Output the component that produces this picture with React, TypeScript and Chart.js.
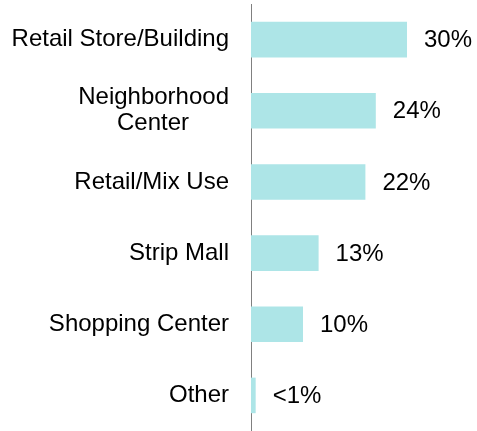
import React, { useEffect, useRef } from "react";
import { Chart, registerables } from "chart.js";

Chart.register(...registerables);

const categories: (string | string[])[] = [
  "Retail Store/Building",
  ["Neighborhood", "Center      "],
  "Retail/Mix Use",
  "Strip Mall",
  "Shopping Center",
  "Other",
];
const values = [30, 24, 22, 13, 10, 0.9];
const valueLabels = ["30%", "24%", "22%", "13%", "10%", "<1%"];

const FONT = "'Liberation Sans', Arial, Helvetica, sans-serif";
const FSIZE = 24;

const valueLabelPlugin = {
  id: "valueLabels",
  afterDatasetsDraw(chart: any) {
    const { ctx } = chart;
    const meta = chart.getDatasetMeta(0);
    ctx.save();
    ctx.font = `${FSIZE}px ${FONT}`;
    ctx.fillStyle = "#000000";
    ctx.textAlign = "left";
    ctx.textBaseline = "middle";
    meta.data.forEach((bar: any, i: number) => {
      ctx.fillText(valueLabels[i], bar.x + 17, bar.y + 1);
    });
    ctx.restore();
  },
};

export default function App() {
  const ref = useRef<HTMLCanvasElement>(null);
  useEffect(() => {
    if (!ref.current) return;
    const chart = new Chart(ref.current, {
      type: "bar",
      data: {
        labels: categories,
        datasets: [
          {
            data: values,
            backgroundColor: "#ade5e7",
            borderWidth: 0,
            barPercentage: 1,
            categoryPercentage: 0.5,
          },
        ],
      },
      options: {
        indexAxis: "y",
        responsive: false,
        animation: false,
        layout: { padding: { top: 4, right: 0, bottom: 0, left: 0 } },
        plugins: {
          legend: { display: false },
          tooltip: { enabled: false },
        },
        scales: {
          x: {
            display: false,
            min: 0,
            max: 43.46,
          },
          y: {
            grid: { display: false, drawTicks: false },
            border: { display: true, color: "#808080", width: 1 },
            ticks: {
              color: "#000000",
              padding: 22,
              font: { family: FONT, size: FSIZE, lineHeight: 1.08 },
            },
            afterFit: (scale: any) => {
              scale.width = 251;
              scale.paddingTop = 0;
              scale.paddingBottom = 0;
            },
          },
        },
      },
      plugins: [valueLabelPlugin],
    });
    return () => chart.destroy();
  }, []);
  return (
    <div style={{ position: "absolute", left: 0, top: 0, width: 477, height: 431, background: "#fff" }}>
      <canvas ref={ref} width={477} height={431} style={{ display: "block" }} />
    </div>
  );
}
